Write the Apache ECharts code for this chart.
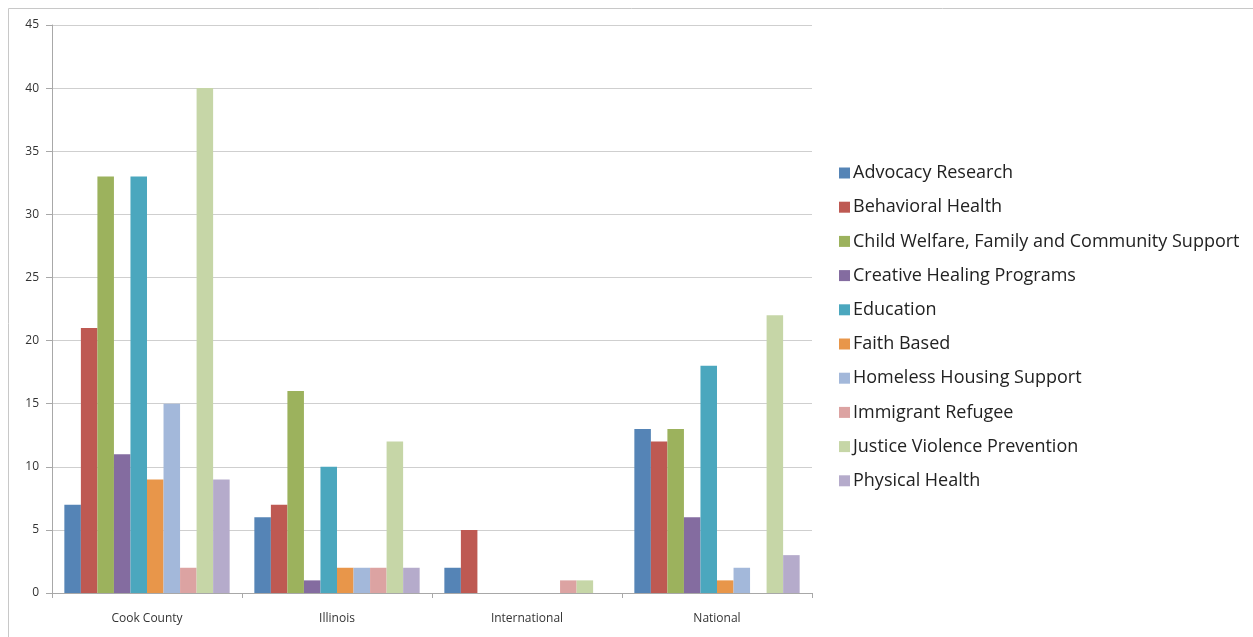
<!DOCTYPE html>
<html>
<head>
<meta charset="utf-8">
<script src="https://cdn.jsdelivr.net/npm/echarts@6/dist/echarts.min.js"></script>
<style>html,body{margin:0;padding:0;background:#fff;}#c{width:1253px;height:637px;}</style>
</head>
<body>
<div id="c"></div>
<script>
const categories = ['Cook County', 'Illinois', 'International', 'National'];
const seriesNames = ['Advocacy Research', 'Behavioral Health', 'Child Welfare, Family and Community Support', 'Creative Healing Programs', 'Education', 'Faith Based', 'Homeless Housing Support', 'Immigrant Refugee', 'Justice Violence Prevention', 'Physical Health'];
const advocacyResearch = [7, 6, 2, 13];
const behavioralHealth = [21, 7, 5, 12];
const childWelfare = [33, 16, 0, 13];
const creativeHealing = [11, 1, 0, 6];
const education = [33, 10, 0, 18];
const faithBased = [9, 2, 0, 1];
const homelessHousing = [15, 2, 0, 2];
const immigrantRefugee = [2, 2, 1, 0];
const justiceViolence = [40, 12, 1, 22];
const physicalHealth = [9, 2, 0, 3];
const yTicks = [0, 5, 10, 15, 20, 25, 30, 35, 40, 45];
const colors = ['#5584B6', '#BE5952', '#9CB25D', '#846CA0', '#4BA7BE', '#E8964A', '#A3B8DA', '#DCA3A2', '#C6D6A7', '#B5ABCB'];

const allValues = [advocacyResearch, behavioralHealth, childWelfare, creativeHealing, education, faithBased, homelessHousing, immigrantRefugee, justiceViolence, physicalHealth];

const chart = echarts.init(document.getElementById('c'), null, {renderer: 'canvas'});
const font = '"Open Sans", "Liberation Sans", sans-serif';
chart.setOption({
  animation: false,
  color: colors,
  textStyle: {fontFamily: font},
  graphic: [{
    type: 'rect', shape: {x: 8.5, y: 8.5, width: 1260, height: 640},
    style: {fill: 'none', stroke: '#c8c8c8', lineWidth: 1}, silent: true
  }],
  grid: {left: 52, right: 441, top: 25, bottom: 44, containLabel: false},
  legend: {
    orient: 'vertical', left: 834, top: 158,
    itemWidth: 11, itemHeight: 11, itemGap: 14.2,
    icon: 'rect',
    textStyle: {fontFamily: font, fontSize: 18, color: '#222', lineHeight: 20, padding: [0, 0, 0, -2]},
    data: seriesNames
  },
  xAxis: {
    type: 'category', data: categories,
    axisLine: {lineStyle: {color: '#a8a8a8', width: 1}},
    axisTick: {show: true, alignWithLabel: false, length: 5, lineStyle: {color: '#a8a8a8'}},
    axisLabel: {fontFamily: font, fontSize: 12, color: '#333', margin: 20}
  },
  yAxis: {
    type: 'value', min: 0, max: 45, interval: 5,
    axisLine: {show: true, lineStyle: {color: '#a8a8a8'}},
    axisTick: {show: true, inside: false, length: 6, lineStyle: {color: '#a8a8a8'}},
    splitLine: {lineStyle: {color: '#cfcfcf', width: 1}},
    axisLabel: {fontFamily: font, fontSize: 12, color: '#333', margin: 13,
      formatter: v => yTicks.includes(v) ? String(v) : ''}
  },
  series: seriesNames.map((n, i) => ({
    name: n, type: 'bar', data: allValues[i],
    barGap: '0%', barCategoryGap: '13%',
    itemStyle: {color: colors[i]}
  }))
});
</script>
</body>
</html>
